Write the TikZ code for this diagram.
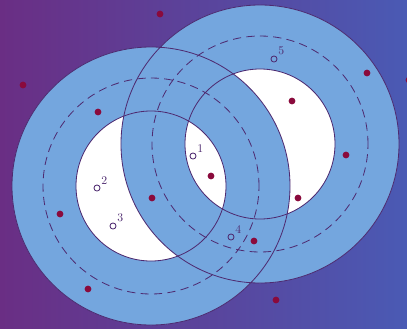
\documentclass[tikz,border=0pt]{standalone}
\usepackage{tikz}
\usetikzlibrary{positioning}
\definecolor{bgleft}{HTML}{6A2E84}
\definecolor{bgright}{HTML}{4A5AB4}
\definecolor{ringblue}{HTML}{74A6DE}
\definecolor{rimline}{HTML}{4E2A70}
\definecolor{dotred}{HTML}{8A0A3C}

\begin{document}
\begin{tikzpicture}[
    x=0.03cm, y=-0.03cm,
    rim/.style={draw=rimline, line width=0.7pt},
    midring/.style={draw=rimline, dash pattern=on 7pt off 4.5pt, line width=0.7pt},
    dot/.style={circle, fill=dotred, inner sep=0pt, minimum size=5.8pt},
    probe/.style={circle, draw=rimline, inner sep=0pt, minimum size=5.2pt, line width=0.7pt},
    tag/.style={font=\normalsize, text=rimline, inner sep=1pt}
]
    % background
    \clip (0,0) rectangle (407,329);
    \shade[left color=bgleft, right color=bgright] (0,0) rectangle (407,329);
    \coordinate (cl) at (151,186);
    \coordinate (cr) at (260,144);

    % rings and holes
    \fill[ringblue] (cl) circle (4.17cm) (cr) circle (4.17cm);
    \fill[white] (cl) circle (2.25cm) (cr) circle (2.25cm);
    \fill[ringblue, even odd rule] (cl) circle (4.17cm) (cl) circle (2.25cm);
    \fill[ringblue, even odd rule] (cr) circle (4.17cm) (cr) circle (2.25cm);

    \draw[rim] (cl) circle (4.17cm) (cr) circle (4.17cm);
    \draw[rim] (cl) circle (2.25cm) (cr) circle (2.25cm);
    \draw[midring] (cl) circle (3.24cm) (cr) circle (3.24cm);

    % dots
    \node[dot] (d1) at (160,14) {};
    \node[dot] (d2) at (23,85) {};
    \node[dot] (d3) at (98,112) {};
    \node[dot] (d4) at (60,214) {};
    \node[dot] (d5) at (88,289) {};
    \node[dot] (d6) at (152,198) {};
    \node[dot] (d7) at (211,176) {};
    \node[dot] (d8) at (292,101) {};
    \node[dot] (d9) at (367,73) {};
    \node[dot] (d10) at (346,155) {};
    \node[dot] (d11) at (298,198) {};
    \node[dot] (d12) at (254,241) {};
    \node[dot] (d13) at (276,300) {};
    \node[dot] (d14) at (409,80) {};

    % numbered points
    \node[probe] (p1) at (193,156) {};
    \node[probe] (p2) at (97,188) {};
    \node[probe] (p3) at (113,226) {};
    \node[probe] (p4) at (231,237) {};
    \node[probe] (p5) at (274,59) {};
    \node[tag, above right=0pt and 0.5pt of p1] (t1) {1};
    \node[tag, above right=0pt and 0.5pt of p2] (t2) {2};
    \node[tag, above right=0pt and 0.5pt of p3] (t3) {3};
    \node[tag, above right=0pt and 0.5pt of p4] (t4) {4};
    \node[tag, above right=0pt and 0.5pt of p5] (t5) {5};
\end{tikzpicture}
\end{document}
